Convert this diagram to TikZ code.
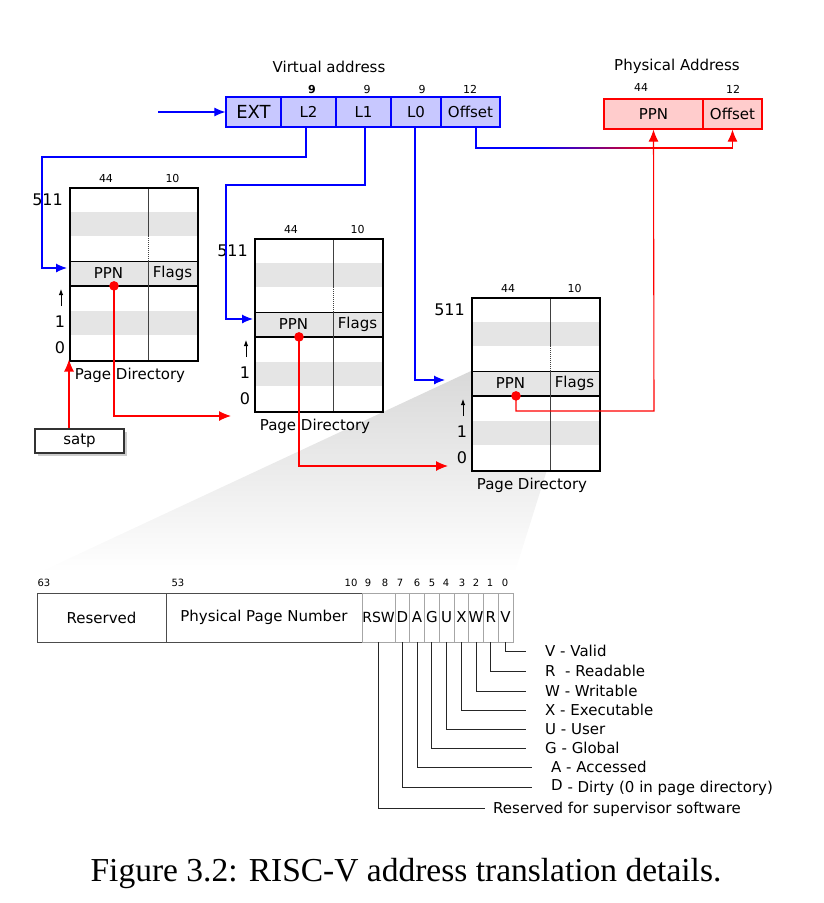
\documentclass[tikz,border=0pt]{standalone}
\usepackage{fontspec}
\setmainfont{DejaVu Sans}
\newfontfamily\capfont{Liberation Serif}
\usetikzlibrary{arrows.meta,shadows,calc}
\definecolor{vafill}{RGB}{200,200,255}
\definecolor{pafill}{RGB}{255,204,204}
\definecolor{stripe}{RGB}{229,229,229}
\newcommand\FSz[1]{\fontsize{#1}{#1}\selectfont}
\tikzset{
  lbl/.style={inner sep=0pt, font=\FSz{15}},
  small/.style={inner sep=0pt, font=\FSz{11}},
  bitno/.style={inner sep=0pt, font=\FSz{10}},
  idx/.style={inner sep=0pt, font=\FSz{16}},
  vabox/.style={draw=blue, fill=vafill, line width=1.2pt, minimum height=30pt, inner sep=0pt, font=\FSz{15}},
  pabox/.style={draw=red, fill=pafill, line width=1.2pt, minimum height=30pt, inner sep=0pt, font=\FSz{15}},
  bluel/.style={draw=blue, line width=1.1pt},
  bluearrow/.style={bluel, -{Latex[length=11pt,width=9pt]}},
  redl/.style={draw=red, line width=1.1pt},
  redarrow/.style={redl, -{Latex[length=12pt,width=10pt]}},
  pdbox/.style={draw=black, line width=1.5pt, minimum width=128pt, minimum height=173pt, inner sep=0pt},
  rowline/.style={draw=black, line width=1.2pt},
  colline/.style={draw=black!75, line width=1pt},
  uparrow/.style={draw=black, line width=0.9pt, -{Latex[length=6pt,width=4.5pt]}},
  fieldbox/.style={draw=black!70, line width=1pt, minimum height=49pt, inner sep=0pt, font=\FSz{15}},
  flagbox/.style={draw=black!35, line width=0.8pt, minimum height=49pt, minimum width=14.75pt, inner sep=0pt, font=\FSz{15}},
  legend/.style={anchor=west, inner sep=0pt, font=\FSz{15}, text height=11pt, text depth=0pt},
  legline/.style={draw=black!85, line width=0.9pt},
}
\newcommand\PageDir[3]{%
\begin{scope}[shift={(#2,#3)}]
 \fill[white, drop shadow={opacity=0.35,shadow xshift=2pt,shadow yshift=-2pt}] (0,0) rectangle (128,173);
 \fill[stripe] (0,24.7) rectangle (128,49.4);
 \fill[stripe] (0,74.1) rectangle (128,98.9);
 \fill[stripe] (0,123.6) rectangle (128,148.3);
 \draw[rowline] (0,74.1) -- (128,74.1) (0,98.9) -- (128,98.9);
 \draw[colline] (79,0) -- (79,49.4) (79,74.1) -- (79,173);
 \draw[colline,densely dotted] (79,49.4) -- (79,74.1);
 \node[pdbox,anchor=north west] (#1) at (0,0) {};
 \node[small] (#1wa) at (37,-9) {44};
 \node[small] (#1wb) at (103.5,-9) {10};
 \node[idx,anchor=east] (#1top) at (-6,13) {511};
 \node[idx] (#1one) at (-9,135) {1};
 \node[idx] (#1zero) at (-9,161) {0};
 \coordinate (#1upa) at (-8,119);
 \coordinate (#1upb) at (-8,102);
 \draw[uparrow] (#1upa) -- (#1upb);
 \node[lbl] (#1ppn) at (39.5,86.5) {PPN};
 \node[lbl] (#1flags) at (103.5,86.5) {Flags};
 \node[lbl] (#1cap) at (61,188) {Page Directory};
 \fill[red] (45,98.9) circle (4.8);
 \coordinate (#1dot) at (45,98.9);
\end{scope}}
\begin{document}
\begin{tikzpicture}[x=1pt,y=-1pt]
\useasboundingbox (0,0) rectangle (823,903);
% wedge
\shade[top color=black!15, bottom color=white] (471,371) -- (578,371) -- (515,572) -- (40,572) -- cycle;

% virtual address
\node[lbl] (vtitle) at (329,67) {Virtual address};
\node[vabox, minimum width=55pt, font=\FSz{18}] (EXT) at (253.5,112) {EXT};
\node[vabox, minimum width=55pt] (L2) at (308.5,112) {L2};
\node[vabox, minimum width=55pt] (L1) at (363.5,112) {L1};
\node[vabox, minimum width=50pt] (L0) at (416,112) {L0};
\node[vabox, minimum width=59pt] (vOff) at (470.5,112) {Offset};
\node[small] (n9a) at (312,89) {\bfseries 9};
\node[small] (n9b) at (367,89) {9};
\node[small] (n9c) at (422,89) {9};
\node[small] (n12a) at (470,89) {12};
\coordinate (vin) at (158,112);
\draw[bluearrow] (vin) -- (EXT.west);

% physical address
\node[lbl] (ptitle) at (677,66) {Physical Address};
\node[pabox, minimum width=99pt] (pPPN) at (653.5,114) {PPN};
\node[pabox, minimum width=59pt] (pOff) at (732.5,114) {Offset};
\node[small] (n44p) at (641,87) {44};
\node[small] (n12p) at (733,89) {12};

% page directories
\PageDir{pda}{69}{187}
\PageDir{pdb}{254}{238}
\PageDir{pdc}{471}{297}

% satp
\node[draw=black!80, line width=1.5pt, fill=white, minimum width=89pt, minimum height=24pt, inner sep=0pt, font=\FSz{15},
  drop shadow={opacity=0.4,shadow xshift=3pt,shadow yshift=-3pt}] (satp) at (79.5,441) {satp};
\draw[redarrow, shorten >=-2pt] (satp.north -| pda.south west) -- (pda.south west);

% blue connectors
\coordinate (ba1) at (42,157);
\coordinate (ba2) at (67,268);
\draw[bluearrow] ([xshift=-2.5pt]L2.south) |- (ba1) |- (ba2);
\coordinate (bb1) at (226,185);
\coordinate (bb2) at (253,319);
\draw[bluearrow] ([xshift=1.5pt]L1.south) |- (bb1) |- (bb2);
\coordinate (bc1) at (445,380);
\draw[bluearrow] ([xshift=-1pt]L0.south) |- (bc1);

% offset connector (blue to red)
\coordinate (g1) at (540,148);
\coordinate (g2) at (655,148);
\draw[bluel] ([xshift=5.5pt]vOff.south) |- (g1);
\shade[left color=blue, right color=red] (540,147.45) rectangle (655,148.55);
\draw[redarrow] (g2) -| (pOff.south);

% red connectors
\coordinate (ra) at (231,416);
\draw[redarrow] (pdadot) |- (ra);
\coordinate (rb) at (448,466);
\draw[redarrow] (pdbdot) |- (rb);
\coordinate (rc) at (654,411);
\draw[redarrow] (pdcdot) |- (rc) -- (pPPN.south);

% PTE layout
\node[fieldbox, minimum width=129pt] (res) at (101.5,617.5) {Reserved};
\node[fieldbox, minimum width=196pt] (ppnf) at (264,617.5) {Physical Page Number};
\node[flagbox, minimum width=33pt, font=\FSz{14}] (rsw) at (378.5,617.5) {RSW};
\node[flagbox] (fD) at (402.4,617.5) {D};
\node[flagbox] (fA) at (417.1,617.5) {A};
\node[flagbox] (fG) at (431.9,617.5) {G};
\node[flagbox] (fU) at (446.6,617.5) {U};
\node[flagbox] (fX) at (461.4,617.5) {X};
\node[flagbox] (fW) at (476.1,617.5) {W};
\node[flagbox] (fR) at (490.9,617.5) {R};
\node[flagbox] (fV) at (505.6,617.5) {V};

\node[bitno] (b63) at (44,583) {63};
\node[bitno] (b53) at (178,583) {53};
\node[bitno] (b10) at (351,583) {10};
\node[bitno] (b9) at (368,583) {9};
\node[bitno] (b8) at (385,583) {8};
\node[bitno] (b7) at (400,583) {7};
\node[bitno] (b6) at (417,583) {6};
\node[bitno] (b5) at (432,583) {5};
\node[bitno] (b4) at (446,583) {4};
\node[bitno] (b3) at (462,583) {3};
\node[bitno] (b2) at (476,583) {2};
\node[bitno] (b1) at (490,583) {1};
\node[bitno] (b0) at (505,583) {0};

% legend
\node[legend] (lV) at (545,651) {V - Valid};
\node[legend] (lR) at (545,671) {R~ - Readable};
\node[legend] (lW) at (545,691) {W - Writable};
\node[legend] (lX) at (545,710) {X - Executable};
\node[legend] (lU) at (545,729) {U - User};
\node[legend] (lG) at (545,748) {G - Global};
\node[legend] (lA) at (551,767) {A - Accessed};
\node[legend] (lD) at (551,787) {\raisebox{2pt}{D} - Dirty (0 in page directory)};
\node[legend] (lS) at (493,808) {Reserved for supervisor software};
\draw[legline] (fV.south) |- ([xshift=-19pt]lV.west);
\draw[legline] (fR.south) |- ([xshift=-19pt]lR.west);
\draw[legline] (fW.south) |- ([xshift=-19pt]lW.west);
\draw[legline] (fX.south) |- ([xshift=-19pt]lX.west);
\draw[legline] (fU.south) |- ([xshift=-19pt]lU.west);
\draw[legline] (fG.south) |- ([xshift=-19pt]lG.west);
\draw[legline] (fA.south) |- ([xshift=-19pt]lA.west);
\draw[legline] (fD.south) |- ([xshift=-19pt]lD.west);
\draw[legline] (rsw.south) |- ([xshift=-8pt]lS.west);

% caption
\node[inner sep=0pt, font=\capfont\FSz{33.5}] (caption) at (406,873) {Figure 3.2: RISC-V address translation details.};
\end{tikzpicture}
\end{document}
